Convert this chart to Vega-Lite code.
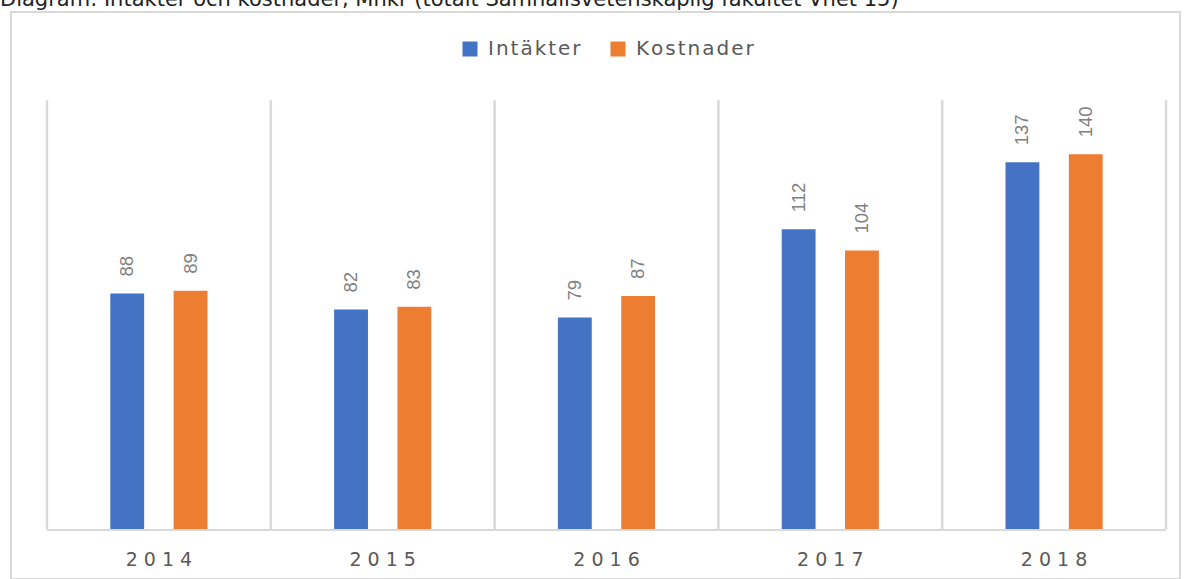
{
  "$schema": "https://vega.github.io/schema/vega-lite/v6.json",
  "width": 1169,
  "height": 567,
  "autosize": {"type": "none"},
  "padding": {"left": 11, "top": 12, "right": 10, "bottom": 0},
  "background": "white",
  "title": {
    "text": "Diagram: Intäkter och kostnader, Mnkr (totalt Samhällsvetenskaplig fakultet Vhet 15)",
    "anchor": "start",
    "frame": "group",
    "orient": "top",
    "offset": 3,
    "dx": -11,
    "dy": 18,
    "fontSize": 21,
    "font": "DejaVu Sans",
    "fontWeight": "normal",
    "color": "#222222",
    "baseline": "alphabetic"
  },
  "datasets": {
    "bars": [
      {"year": "2014", "serie": "Intäkter", "value": 88},
      {"year": "2014", "serie": "Kostnader", "value": 89},
      {"year": "2015", "serie": "Intäkter", "value": 82},
      {"year": "2015", "serie": "Kostnader", "value": 83},
      {"year": "2016", "serie": "Intäkter", "value": 79},
      {"year": "2016", "serie": "Kostnader", "value": 87},
      {"year": "2017", "serie": "Intäkter", "value": 112},
      {"year": "2017", "serie": "Kostnader", "value": 104},
      {"year": "2018", "serie": "Intäkter", "value": 137},
      {"year": "2018", "serie": "Kostnader", "value": 140}
    ],
    "years": [
      {"year": "2014"}, {"year": "2015"}, {"year": "2016"}, {"year": "2017"}, {"year": "2018"}
    ],
    "last": [{"year": "2018"}]
  },
  "layer": [
    {
      "data": {"name": "bars"},
      "mark": {"type": "bar"},
      "encoding": {
        "x": {
          "field": "year",
          "type": "nominal",
          "sort": null,
          "scale": {
            "type": "band",
            "domain": ["2014", "2015", "2016", "2017", "2018"],
            "paddingInner": 0,
            "paddingOuter": 0.1117,
            "align": 0.72
          },
          "axis": {
            "orient": "bottom",
            "offset": -50,
            "domain": false,
            "ticks": false,
            "grid": false,
            "title": null,
            "labelAngle": 0,
            "labelPadding": 21,
            "labelFontSize": 19,
            "labelFont": "DejaVu Sans",
            "labelColor": "#595959",
            "labelExpr": "join(split(datum.label, ''), ' ')"
          }
        },
        "xOffset": {
          "field": "serie",
          "type": "nominal",
          "scale": {"domain": ["Intäkter", "Kostnader"], "paddingInner": 0.4655, "paddingOuter": 1.162}
        },
        "y": {
          "field": "value",
          "type": "quantitative",
          "scale": {"domain": [-18.68, 193.13], "nice": false, "zero": false},
          "axis": null
        },
        "color": {
          "field": "serie",
          "type": "nominal",
          "scale": {"domain": ["Intäkter", "Kostnader"], "range": ["#4472C4", "#ED7D31"]},
          "legend": {
            "orient": "none",
            "legendX": 449,
            "legendY": 27,
            "direction": "horizontal",
            "title": null,
            "padding": 0,
            "symbolType": "square",
            "symbolSize": 225,
            "symbolStrokeWidth": 0,
            "symbolOpacity": 1,
            "labelFontSize": 20,
            "labelFont": "DejaVu Sans",
            "labelColor": "#595959",
            "labelOffset": 8,
            "columnPadding": 27,
            "labelExpr": "join(split(datum.label, ''), '\u200a')"
          }
        }
      }
    },
    {
      "data": {"name": "years"},
      "mark": {"type": "rect", "color": "#d9d9d9"},
      "encoding": {
        "x": {"field": "year", "type": "nominal"},
        "y": {"datum": 0, "type": "quantitative"},
        "y2": {"datum": -0.75}
      }
    },
    {
      "data": {"name": "years"},
      "mark": {"type": "rule", "color": "#d9d9d9", "strokeWidth": 2.5},
      "encoding": {
        "x": {"field": "year", "type": "nominal", "bandPosition": 0},
        "y": {"datum": 0, "type": "quantitative"},
        "y2": {"datum": 160.2}
      }
    },
    {
      "data": {"name": "last"},
      "mark": {"type": "rule", "color": "#d9d9d9", "strokeWidth": 2.5},
      "encoding": {
        "x": {"field": "year", "type": "nominal", "bandPosition": 1},
        "y": {"datum": 0, "type": "quantitative"},
        "y2": {"datum": 160.2}
      }
    },
    {
      "data": {"name": "bars"},
      "mark": {
        "type": "text",
        "angle": 270,
        "align": "left",
        "baseline": "middle",
        "dx": 17,
        "font": "Liberation Sans",
        "fontSize": 18.5,
        "color": "#808080"
      },
      "encoding": {
        "x": {"field": "year", "type": "nominal"},
        "xOffset": {"field": "serie", "type": "nominal"},
        "y": {"field": "value", "type": "quantitative"},
        "text": {"field": "value", "type": "quantitative"}
      }
    }
  ],
  "config": {
    "view": {"stroke": "#d9d9d9", "strokeWidth": 2}
  }
}
